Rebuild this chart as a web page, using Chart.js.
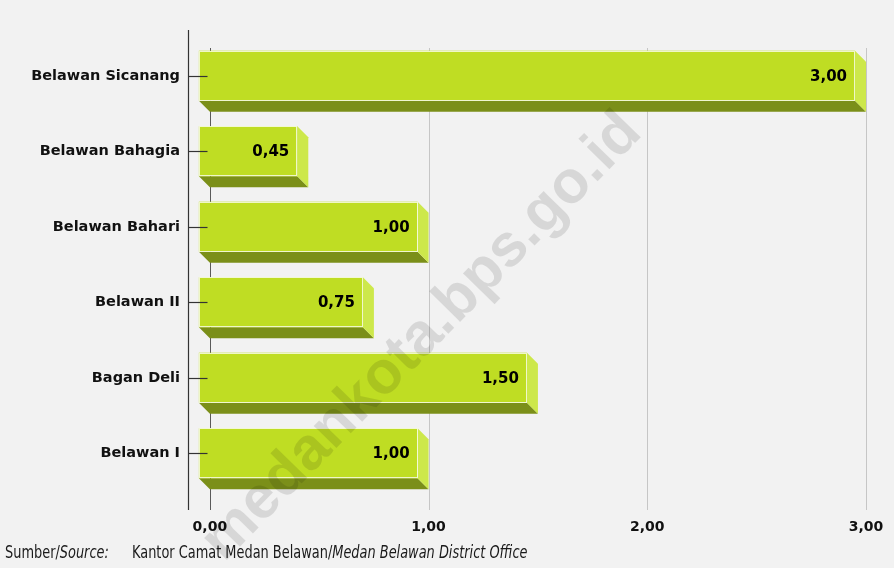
<!DOCTYPE html>
<html>
<head>
<meta charset="utf-8">
<script src="https://cdn.jsdelivr.net/npm/chart.js@4.4.0/dist/chart.umd.min.js"></script>
<style>
  html, body { margin: 0; padding: 0; background: #f2f2f2; }
  #wrap { position: relative; width: 894px; height: 568px; overflow: hidden; }
  canvas { position: absolute; left: 0; top: 0; }
  .src {
    position: absolute; top: 542px;
    font: 17px "Liberation Sans Narrow", "DejaVu Sans Condensed", sans-serif; color: #1a1a1a;
    white-space: nowrap; transform: scaleX(0.845); transform-origin: 0 0;
  }
</style>
</head>
<body>
<div id="wrap">
  <canvas id="chart" width="894" height="568"></canvas>
  <div class="src" style="left:5px">Sumber/<i>Source:</i></div>
  <div class="src" style="left:132px">Kantor Camat Medan Belawan/<i>Medan Belawan District Office</i></div>
</div>
<script>
// bar chart: kecamatan Medan Belawan
const categories = ['Belawan Sicanang', 'Belawan Bahagia', 'Belawan Bahari', 'Belawan II', 'Bagan Deli', 'Belawan I'];
const values = [3.00, 0.45, 1.00, 0.75, 1.50, 1.00];
const xTicks = [0, 1, 2, 3];
const watermark = 'medankota.bps.go.id';

const DEPTH = 11;
const fmt = v => v.toFixed(2).replace('.', ',');

// grid lines on the back wall
const wallPlugin = {
  id: 'wall',
  beforeDatasetsDraw(chart) {
    const { ctx, scales: { x } } = chart;
    ctx.save();
    xTicks.forEach(v => {
      const px = Math.round(x.getPixelForValue(v)) + 0.5;
      ctx.strokeStyle = v === 0 ? '#5a5a5a' : '#c6c6c6';
      ctx.lineWidth = 1;
      ctx.beginPath();
      ctx.moveTo(px, 48);
      ctx.lineTo(px, 510);
      ctx.stroke();
    });
    ctx.restore();
  },
  // translucent watermark over everything
  afterDraw(chart) {
    const { ctx } = chart;
    ctx.save();
    ctx.translate(422, 337);
    ctx.rotate(-45.6 * Math.PI / 180);
    ctx.font = 'bold 60px "Liberation Sans", Arial, sans-serif';
    ctx.fillStyle = 'rgba(0,0,0,0.11)';
    ctx.textAlign = 'center';
    ctx.textBaseline = 'middle';
    ctx.fillText(watermark, 0, 0);
    ctx.restore();
  }
};

// 3d looking bars
const barPlugin = {
  id: 'bars3d',
  afterDatasetsDraw(chart) {
    const { ctx } = chart;
    const meta = chart.getDatasetMeta(0);
    ctx.save();
    meta.data.forEach((bar, i) => {
      const { x, y, base, height } = bar.getProps(['x', 'y', 'base', 'height'], true);
      const yt = y - height / 2, yb = y + height / 2;
      const d = DEPTH;
      // bottom face
      ctx.fillStyle = '#7b8f19';
      ctx.beginPath();
      ctx.moveTo(base - d, yb - d);
      ctx.lineTo(x - d, yb - d);
      ctx.lineTo(x, yb);
      ctx.lineTo(base, yb);
      ctx.closePath();
      ctx.fill();
      // right side face
      ctx.fillStyle = '#cde84b';
      ctx.beginPath();
      ctx.moveTo(x - d, yt - d);
      ctx.lineTo(x, yt);
      ctx.lineTo(x, yb);
      ctx.lineTo(x - d, yb - d);
      ctx.closePath();
      ctx.fill();
      // front face
      ctx.fillStyle = '#bfdd23';
      ctx.fillRect(base - d, yt - d, x - base, height);
      ctx.strokeStyle = 'rgba(255,255,255,0.75)';
      ctx.lineWidth = 1;
      ctx.strokeRect(Math.round(base - d) + 0.5, Math.round(yt - d) + 0.5, Math.round(x - base) - 1, Math.round(height) - 1);
      // value label
      ctx.fillStyle = '#000';
      ctx.font = 'bold 15px "DejaVu Sans", sans-serif';
      ctx.textAlign = 'right';
      ctx.textBaseline = 'middle';
      ctx.fillText(fmt(values[i]), x - d - 8, y - d + 1);
    });

    // axis line and tick marks
    const left = Math.round(chart.chartArea.left) + 0.5;
    ctx.strokeStyle = '#333';
    ctx.lineWidth = 1.2;
    ctx.beginPath();
    ctx.moveTo(left, 30);
    ctx.lineTo(left, 510);
    ctx.stroke();
    meta.data.forEach(bar => {
      const ty = Math.round(bar.y - DEPTH) + 0.5;
      ctx.beginPath();
      ctx.moveTo(left, ty);
      ctx.lineTo(left + 19, ty);
      ctx.stroke();
    });
    ctx.restore();
  }
};

new Chart(document.getElementById('chart'), {
  type: 'bar',
  data: {
    labels: categories,
    datasets: [{
      data: values,
      backgroundColor: 'rgba(0,0,0,0)',
      borderWidth: 0,
      barPercentage: 0.663,
      categoryPercentage: 1
    }]
  },
  options: {
    indexAxis: 'y',
    responsive: false,
    animation: false,
    layout: { padding: { top: 49, right: 28, bottom: 26, left: 0 } },
    plugins: { legend: { display: false }, tooltip: { enabled: false } },
    scales: {
      x: {
        type: 'linear',
        min: -0.1,
        max: 3,
        afterBuildTicks: s => { s.ticks = xTicks.map(v => ({ value: v })); },
        afterFit: s => { s.height = 40; },
        grid: { display: false },
        border: { display: false },
        ticks: {
          padding: 9,
          color: '#111',
          font: { family: 'DejaVu Sans', weight: 'bold', size: 14 },
          callback: v => fmt(v)
        }
      },
      y: {
        afterFit: s => { s.width = 188; },
        grid: { display: false },
        border: { display: false },
        ticks: {
          padding: 0,
          labelOffset: -DEPTH,
          color: '#111',
          font: { family: 'DejaVu Sans', weight: 'bold', size: 14.5 }
        }
      }
    }
  },
  plugins: [wallPlugin, barPlugin]
});
</script>
</body>
</html>
